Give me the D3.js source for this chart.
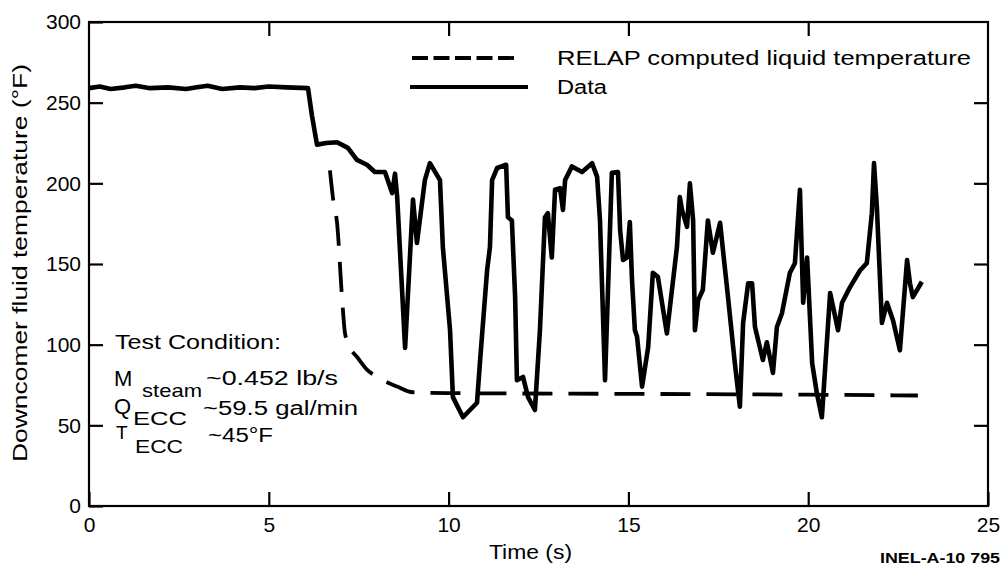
<!DOCTYPE html>
<html>
<head>
<meta charset="utf-8">
<script src="https://cdn.jsdelivr.net/npm/d3@7"></script>
<style>
  body { margin: 0; background: #fff; }
  svg text { font-family: "Liberation Sans", Arial, sans-serif; fill: #000; }
</style>
</head>
<body>
<div id="plot"></div>
<script>
const dataTime = [0, 0.3, 0.6, 1.0, 1.3, 1.7, 2.2, 2.7, 3.0, 3.3, 3.7, 4.2, 4.6, 5.0, 5.5, 6.09,
  6.2, 6.34, 6.6, 6.9, 7.2, 7.45, 7.73, 7.95, 8.23, 8.43, 8.51, 8.57, 8.79, 9.01, 9.12, 9.34, 9.48,
  9.76, 9.84, 10.04, 10.12, 10.4, 10.79, 10.87, 11.07, 11.15, 11.21, 11.35, 11.6, 11.65, 11.76,
  11.85, 11.9, 12.07, 12.21, 12.4, 12.54, 12.68, 12.76, 12.87, 12.96, 13.1, 13.18, 13.24, 13.43,
  13.71, 13.99, 14.13, 14.21, 14.35, 14.54, 14.71, 14.77, 14.85, 14.96, 15.04, 15.1, 15.18, 15.24,
  15.38, 15.55, 15.68, 15.82, 16.07, 16.35, 16.43, 16.49, 16.63, 16.71, 16.8, 16.85, 16.94, 17.07,
  17.21, 17.35, 17.55, 17.63, 17.77, 17.96, 18.1, 18.19, 18.33, 18.44, 18.52, 18.74, 18.85, 19.02,
  19.13, 19.27, 19.49, 19.63, 19.77, 19.86, 19.97, 20.11, 20.24, 20.38, 20.61, 20.83, 20.94, 21.16,
  21.44, 21.63, 21.77, 21.83, 21.91, 22.05, 22.19, 22.36, 22.55, 22.75, 22.83, 22.91, 23.16];
const dataTemp = [259, 260, 258.5, 259.5, 260.5, 259, 259.5, 258.5, 259.5, 260.5, 258.5, 259.5, 259, 260, 259.5, 259,
  242, 224, 225, 225.5, 222, 214.5, 211.5, 207, 207, 194, 206, 191.5, 98, 190, 163, 202, 212.5,
  202, 160.5, 109, 67.5, 55, 64, 88.5, 146, 160.5, 202, 209.5, 211.5, 179, 177,
  129.5, 78, 80, 67.5, 59.5, 109, 179, 181.5, 154, 196, 197, 183.5, 202, 210.5,
  207, 212.5, 204, 177, 78, 206.5, 207, 171, 152.5, 154, 176, 140, 109, 105,
  74, 98.5, 144.5, 142, 107, 160.5, 191.5, 183.5, 173, 200, 177, 109, 127.5, 134,
  177, 157, 175.5, 158.5, 129.5, 88.5, 61.5, 113.5, 138, 138, 111, 90.5, 101.5, 82.5,
  111, 119.5, 144.5, 150.5, 196, 126, 154, 88.5, 70, 55, 132, 109, 126, 135.5,
  146, 150.5, 181.5, 212.5, 185, 113.5, 126, 115, 96.5, 152.5, 138, 129.5, 139];

// RELAP computed liquid temperature
const relapTime = [6.7, 6.79, 6.9, 7.04, 7.12, 7.26, 7.45, 7.73, 8.01, 8.57, 9.01, 10, 15, 20, 23.05];
const relapTemp = [208, 190, 175, 128, 107, 98, 92.5, 84.5, 80, 74, 70.5, 70, 69.5, 69, 68.5];

const xTicks = [0, 5, 10, 15, 20, 25];
const yTicks = [0, 50, 100, 150, 200, 250, 300];

const W = 1005, H = 566;
const plotLeft = 89, plotRight = 988, plotTop = 22, plotBottom = 506;

const svg = d3.select("#plot").append("svg")
  .attr("width", W).attr("height", H)
  .style("background", "#fff");

const x = d3.scaleLinear().domain([0, 25]).range([plotLeft, plotRight]);
const y = d3.scaleLinear().domain([0, 300]).range([plotBottom, plotTop]);

// frame
svg.append("rect")
  .attr("x", plotLeft).attr("y", plotTop)
  .attr("width", plotRight - plotLeft).attr("height", plotBottom - plotTop)
  .attr("fill", "none").attr("stroke", "#000").attr("stroke-width", 2.2);

// axes with inward ticks
function styleAxis(g) {
  g.select(".domain").remove();
  g.selectAll(".tick line").attr("stroke", "#000").attr("stroke-width", 2.2);
  g.selectAll(".tick text")
    .style("font-family", "'Liberation Sans', Arial, sans-serif")
    .style("font-size", "21px").attr("fill", "#000");
}

svg.append("g")
  .attr("transform", `translate(0,${plotBottom})`)
  .call(d3.axisBottom(x).tickValues(xTicks).tickSize(-14).tickPadding(11))
  .call(styleAxis);

svg.append("g")
  .attr("transform", `translate(${plotLeft},0)`)
  .call(d3.axisLeft(y).tickValues(yTicks).tickSize(-14).tickPadding(8))
  .call(styleAxis);

svg.append("g")
  .attr("transform", `translate(0,${plotTop})`)
  .call(d3.axisTop(x).tickValues([5, 10, 15, 20]).tickSize(-14).tickFormat(""))
  .call(styleAxis);

svg.append("g")
  .attr("transform", `translate(${plotRight},0)`)
  .call(d3.axisRight(y).tickValues([50, 100, 150, 200, 250]).tickSize(-14).tickFormat(""))
  .call(styleAxis);

// curves
const dataPts = dataTime.map((t, i) => ({ t: t, v: dataTemp[i] }));
const relapPts = relapTime.map((t, i) => ({ t: t, v: relapTemp[i] }));

svg.append("path")
  .datum(relapPts)
  .attr("fill", "none")
  .attr("stroke", "#000")
  .attr("stroke-width", 3.8)
  .attr("stroke-dasharray", "30,16")
  .attr("d", d3.line().x(d => x(d.t)).y(d => y(d.v)).curve(d3.curveMonotoneX));

svg.append("path")
  .datum(dataPts)
  .attr("fill", "none")
  .attr("stroke", "#000")
  .attr("stroke-width", 4.6)
  .attr("stroke-linejoin", "round")
  .attr("d", d3.line().x(d => x(d.t)).y(d => y(d.v)));

// helper for labels; the scanned type is set wide, so stretch when a length is given
function label(parent, px, py, str, size, len) {
  const t = parent.append("text")
    .attr("x", px).attr("y", py)
    .style("font-size", size + "px")
    .text(str);
  if (len) t.attr("textLength", len).attr("lengthAdjust", "spacingAndGlyphs");
  return t;
}

// legend
const legend = svg.append("g");
legend.append("line")
  .attr("x1", 412).attr("x2", 514).attr("y1", 58).attr("y2", 58)
  .attr("stroke", "#000").attr("stroke-width", 3.8).attr("stroke-dasharray", "16,5.5");
label(legend, 557, 65, "RELAP computed liquid temperature", 20, 414);
legend.append("line")
  .attr("x1", 410).attr("x2", 528).attr("y1", 87).attr("y2", 87)
  .attr("stroke", "#000").attr("stroke-width", 3.8);
label(legend, 557, 94, "Data", 20, 50);

// test conditions
const tc = svg.append("g");
label(tc, 115, 349, "Test Condition:", 20, 166);

label(tc, 114, 386, "M", 22);
label(tc, 142, 397, "steam", 19, 60);
label(tc, 206, 385, "~0.452  lb/s", 20, 132);

label(tc, 114, 414, "Q", 22);
label(tc, 133, 425, "ECC", 19, 54);
label(tc, 203, 415, "~59.5 gal/min", 20, 155);

label(tc, 116, 439, "T", 19);
label(tc, 135, 453, "ECC", 19, 48);
label(tc, 208, 442, "~45°F", 20, 65);

// axis titles
label(svg, 489, 559, "Time (s)", 20, 83);

svg.append("text")
  .attr("transform", "translate(27,462) rotate(-90)")
  .style("font-size", "21px")
  .attr("textLength", 398)
  .attr("lengthAdjust", "spacingAndGlyphs")
  .text("Downcomer fluid temperature (°F)");

label(svg, 880, 563, "INEL-A-10 795", 14, 120).style("font-weight", "bold");
</script>
</body>
</html>
